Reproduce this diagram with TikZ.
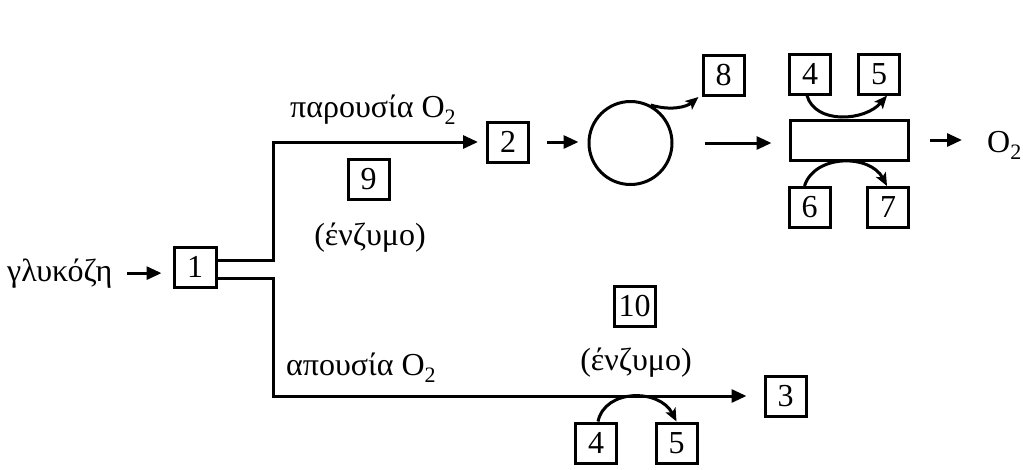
\documentclass[tikz,border=0pt]{standalone}
\usepackage{fontspec}
\setmainfont{Liberation Serif}
\usetikzlibrary{arrows.meta}
\newcommand\sbs[1]{\raisebox{-7pt}{\fontsize{22}{22}\selectfont #1}}
\begin{document}
\begin{tikzpicture}[x=1pt,y=-1pt,
  lw/.style={line width=3pt},
  bx/.style={draw,line width=3pt,minimum width=41pt,minimum height=40pt,inner sep=0pt,font=\fontsize{32}{36}\selectfont},
  lbl/.style={inner sep=0pt,font=\fontsize{32}{36}\selectfont},
  arr/.style={line width=3pt,-{Triangle[length=15pt,width=13pt]}},
  carr/.style={line width=3pt,-{Stealth[length=13pt,width=11pt,inset=3pt]}}]
\useasboundingbox (0,0) rectangle (1023,469);
% texts
\node[lbl,anchor=base west] (gluc) at (7,281) {γλυκόζη};
\node[lbl,anchor=base west] (par) at (290,117) {παρουσία O\sbs{2}};
\node[lbl] (enz1) at (370,238) {(ένζυμο)};
\node[lbl,anchor=base west] (apo) at (286,375) {απουσία O\sbs{2}};
\node[lbl] (enz2) at (636,363) {(ένζυμο)};
\node[lbl,anchor=base west] (o2) at (987,152) {O\sbs{2}};
% boxes
\node[bx,minimum width=42pt] (b1) at (195,267) {1};
\node[bx] (b2) at (508,142) {2};
\node[bx] (b9) at (368.5,179.5) {9};
\node[draw,circle,lw,minimum size=83pt,inner sep=0pt] (c) at (630.5,143) {};
\node[bx] (b8) at (723.5,75.5) {8};
\node[bx] (b4t) at (810,74) {4};
\node[bx] (b5t) at (879,74) {5};
\node[draw,lw,minimum width=118pt,minimum height=40pt,inner sep=0pt] (r) at (849,140) {};
\node[bx] (b6) at (809.5,207.5) {6};
\node[bx] (b7) at (888,207.5) {7};
\node[bx] (b10) at (634.5,306) {10};
\node[bx] (b3) at (785.5,396) {3};
\node[bx] (b4b) at (596,443) {4};
\node[bx] (b5b) at (676.5,443) {5};
% junctions
\coordinate (ja) at (273,142);
\coordinate (jb) at (273,396);
% connectors
\draw[arr,shorten <=15pt,shorten >=11pt] (gluc.east) -- (gluc.east -| b1.west);
\draw[arr,shorten >=8pt] ([yshift=7pt]b1.east) -| (ja) -- (b2.west);
\draw[arr,shorten >=17pt] ([yshift=-11pt]b1.east) -| (jb) -- (b3.west);
\draw[arr,shorten <=17pt,shorten >=9pt] (b2.east) -- (b2.east -| c.west);
\draw[arr,shorten <=31pt,shorten >=17pt] (c.east) -- (c.east -| r.west);
\draw[arr,shorten <=20pt,shorten >=25pt] (r.east) -- (r.east -| o2.west);
\draw[carr] (c.62) .. controls +(20,6) and +(-12,10) .. ([xshift=-3pt]b8.south west);
\draw[carr] ([xshift=-3pt]b4t.south) .. controls +(8,29) and +(-22,26) .. ([xshift=8pt]b5t.south);
\draw[carr] ([xshift=-5pt]b6.north) .. controls +(10,-32) and +(-17,-32) .. ([xshift=-1pt]b7.north);
\draw[carr] ([xshift=2pt]b4b.north) .. controls +(7,-33) and +(-17,-33) .. (b5b.north);
\end{tikzpicture}
\end{document}
